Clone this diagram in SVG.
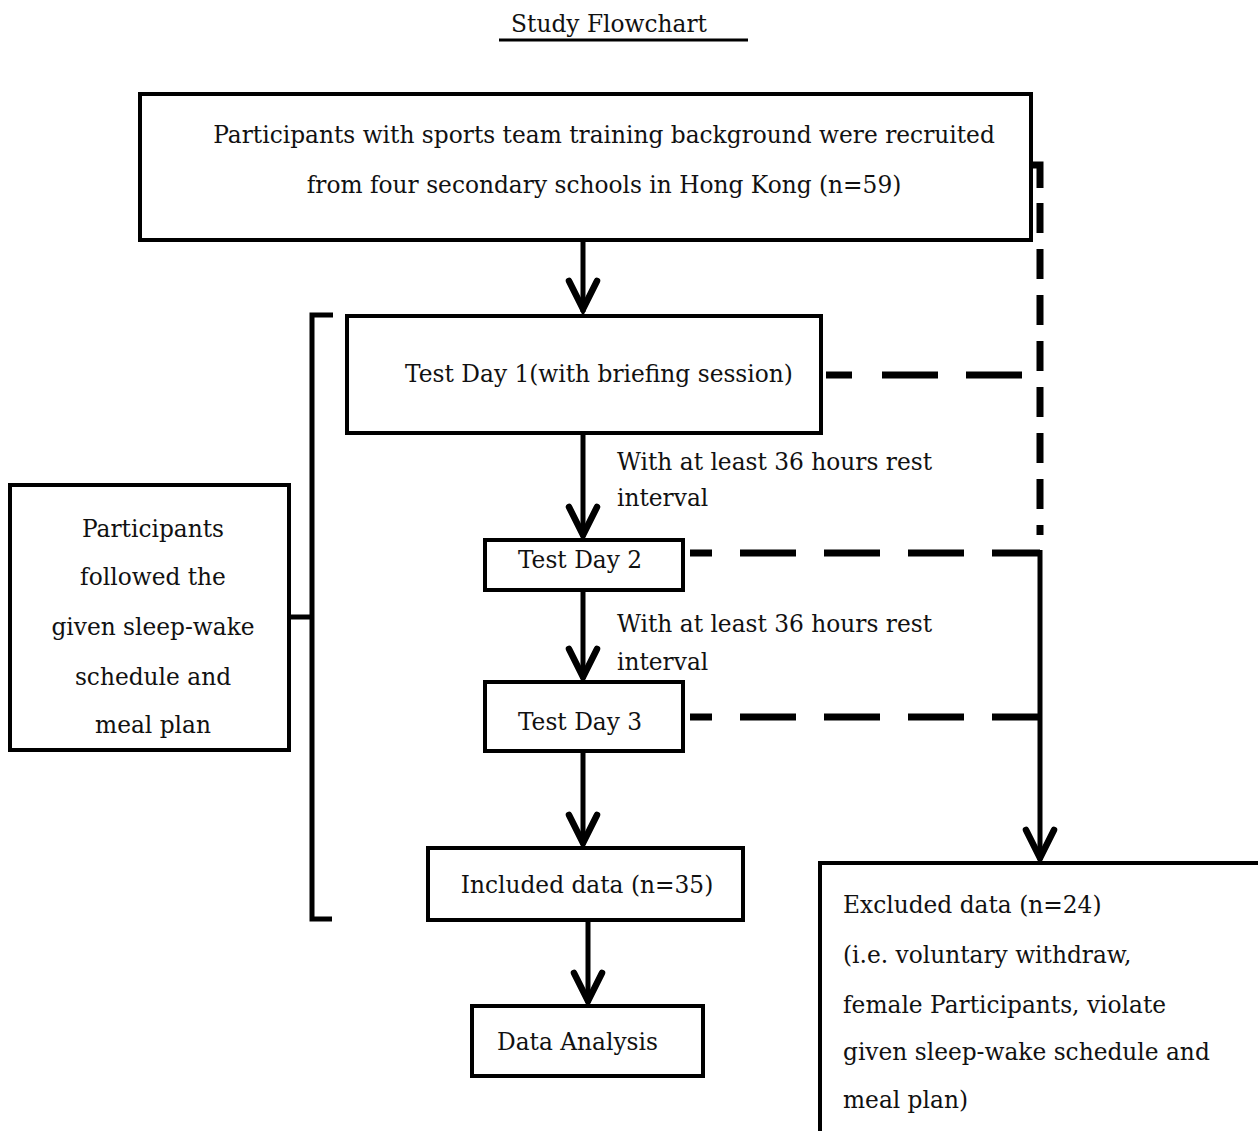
<svg xmlns="http://www.w3.org/2000/svg" width="1258" height="1131" viewBox="0 0 1258 1131">
<style>
text{font-family:"DejaVu Serif","Liberation Serif",serif;font-size:23.3px;fill:#111}
.box{fill:#fff;stroke:#000;stroke-width:4}
.ln{fill:none;stroke:#000;stroke-width:5}
.dash{fill:none;stroke:#000;stroke-width:7}
.head{fill:none;stroke:#000;stroke-width:6.5;stroke-linecap:round;stroke-linejoin:miter}
</style>
<rect width="1258" height="1131" fill="#fff"/>
<g id="title">
<text x="609" y="32" text-anchor="middle" font-size="22">Study Flowchart</text>
<line x1="499" y1="40" x2="748" y2="40" stroke="#000" stroke-width="3"/>
</g>
<g id="connectors">
<line class="ln" x1="583" y1="240" x2="583" y2="312"/>
<polyline class="head" points="569,281 583,309 597,281"/>
<line class="ln" x1="583" y1="433" x2="583" y2="537"/>
<polyline class="head" points="569,507 583,535 597,507"/>
<line class="ln" x1="583" y1="590" x2="583" y2="679"/>
<polyline class="head" points="569,649 583,677 597,649"/>
<line class="ln" x1="583" y1="751" x2="583" y2="845"/>
<polyline class="head" points="569,815 583,843 597,815"/>
<line class="ln" x1="588" y1="920" x2="588" y2="1003"/>
<polyline class="head" points="574,973 588,1001 602,973"/>
<path class="dash" d="M1031,165 H1040 V188"/>
<line class="dash" x1="1040" y1="203" x2="1040" y2="535" stroke-dasharray="30 16"/>
<line class="dash" x1="826" y1="375" x2="1022" y2="375" stroke-dasharray="26 30 56 28 56 0"/>
<line class="dash" x1="690" y1="553" x2="1040" y2="553" stroke-dasharray="22 28 56 28 56 28 56 28 56 0"/>
<line class="dash" x1="690" y1="717" x2="1040" y2="717" stroke-dasharray="22 28 56 28 56 28 56 28 56 0"/>
<line class="ln" x1="1040" y1="550" x2="1040" y2="860"/>
<polyline class="head" points="1026,830 1040,858 1054,830"/>
<path class="ln" d="M333,315 H312 V919 H332"/>
<line class="ln" x1="289" y1="617" x2="312" y2="617"/>
</g>
<g id="n-recruit">
<rect class="box" x="140" y="94" width="891" height="146"/>
<text x="604" y="143" text-anchor="middle">Participants with sports team training background were recruited</text>
<text x="604" y="193" text-anchor="middle">from four secondary schools in Hong Kong (n=59)</text>
</g>
<g id="n-day1">
<rect class="box" x="347" y="316" width="474" height="117"/>
<text x="599" y="382" text-anchor="middle">Test Day 1(with briefing session)</text>
</g>
<g id="n-label1">
<text x="617" y="470">With at least 36 hours rest</text>
<text x="617" y="506">interval</text>
</g>
<g id="n-day2">
<rect class="box" x="485" y="540" width="198" height="50"/>
<text x="580" y="568" text-anchor="middle">Test Day 2</text>
</g>
<g id="n-label2">
<text x="617" y="632">With at least 36 hours rest</text>
<text x="617" y="670">interval</text>
</g>
<g id="n-day3">
<rect class="box" x="485" y="682" width="198" height="69"/>
<text x="580" y="730" text-anchor="middle">Test Day 3</text>
</g>
<g id="n-included">
<rect class="box" x="428" y="848" width="315" height="72"/>
<text x="587" y="893" text-anchor="middle">Included data (n=35)</text>
</g>
<g id="n-analysis">
<rect class="box" x="472" y="1006" width="231" height="70"/>
<text x="497" y="1050">Data Analysis</text>
</g>
<g id="n-schedule">
<rect class="box" x="10" y="485" width="279" height="265"/>
<text x="153" y="537" text-anchor="middle">Participants</text>
<text x="153" y="585" text-anchor="middle">followed the</text>
<text x="153" y="635" text-anchor="middle">given sleep-wake</text>
<text x="153" y="685" text-anchor="middle">schedule and</text>
<text x="153" y="733" text-anchor="middle">meal plan</text>
</g>
<g id="n-excluded">
<rect class="box" x="820" y="863" width="450" height="290"/>
<text x="843" y="913">Excluded data (n=24)</text>
<text x="843" y="963">(i.e. voluntary withdraw,</text>
<text x="843" y="1013">female Participants, violate</text>
<text x="843" y="1060">given sleep-wake schedule and</text>
<text x="843" y="1108">meal plan)</text>
</g>
</svg>
